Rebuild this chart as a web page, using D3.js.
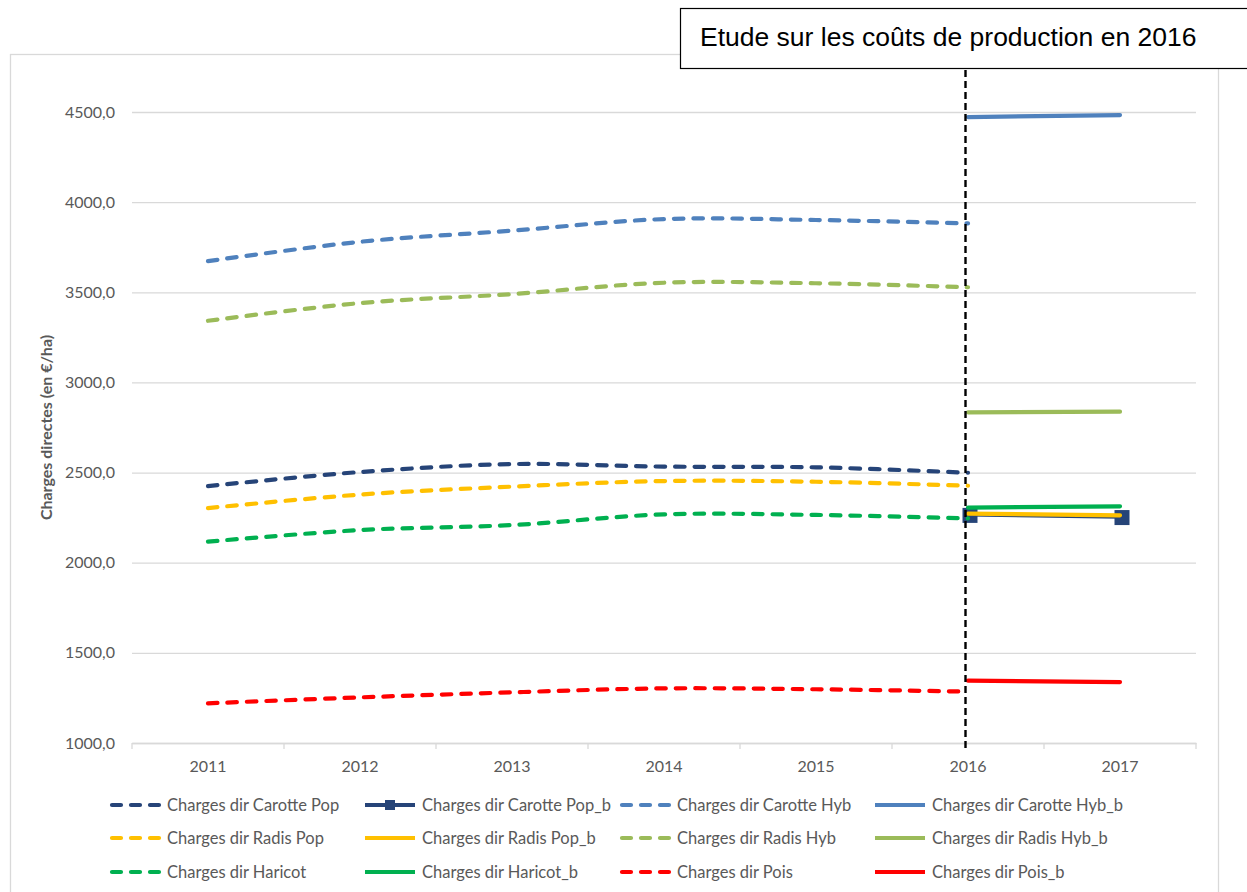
<!DOCTYPE html>
<html>
<head>
<meta charset="utf-8">
<script src="https://cdn.jsdelivr.net/npm/d3@7"></script>
<style>
  html, body { margin: 0; padding: 0; background: #fff; }
  svg { display: block; }
</style>
</head>
<body>
<svg id="chart" width="1247" height="892"></svg>
<script>
// ---------- DATA ----------
const categories = ["2011", "2012", "2013", "2014", "2015", "2016", "2017"];
const yTicks = [1000, 1500, 2000, 2500, 3000, 3500, 4000, 4500];

const carottePop  = [2425, 2503, 2547, 2533, 2529, 2499, null];
const carottePopB = [null, null, null, null, null, 2268, 2256];
const carotteHyb  = [3673, 3780, 3842, 3906, 3901, 3882, null];
const carotteHybB = [null, null, null, null, null, 4472, 4483];
const radisPop    = [2303, 2378, 2422, 2453, 2449, 2427, null];
const radisPopB   = [null, null, null, null, null, 2272, 2263];
const radisHyb    = [3342, 3440, 3490, 3553, 3550, 3528, null];
const radisHybB   = [null, null, null, null, null, 2834, 2838];
const haricot     = [2117, 2181, 2209, 2268, 2265, 2246, null];
const haricotB    = [null, null, null, null, null, 2306, 2313];
const pois        = [1220, 1253, 1281, 1303, 1298, 1285, null];
const poisB       = [null, null, null, null, null, 1346, 1338];

const seriesNames = [
  "Charges dir Carotte Pop", "Charges dir Carotte Pop_b",
  "Charges dir Carotte Hyb", "Charges dir Carotte Hyb_b",
  "Charges dir Radis Pop", "Charges dir Radis Pop_b",
  "Charges dir Radis Hyb", "Charges dir Radis Hyb_b",
  "Charges dir Haricot", "Charges dir Haricot_b",
  "Charges dir Pois", "Charges dir Pois_b"
];
const seriesValues = [carottePop, carottePopB, carotteHyb, carotteHybB,
  radisPop, radisPopB, radisHyb, radisHybB, haricot, haricotB, pois, poisB];
const seriesColors = ["#264478", "#264478", "#4F81BD", "#4F81BD",
  "#FFC000", "#FFC000", "#9BBB59", "#9BBB59", "#00B050", "#00B050", "#FF0000", "#FF0000"];
const seriesDashed = [true, false, true, false, true, false, true, false, true, false, true, false];
const seriesMarker = [false, true, false, false, false, false, false, false, false, false, false, false];

const titleText = "Etude sur les coûts de production en 2016";
const yAxisTitle = "Charges directes (en €/ha)";
const markerYear = "2016";

// ---------- LAYOUT ----------
const svg = d3.select("#chart");
const plot = { left: 132, right: 1196, top: 112, bottom: 743 };
const fontUI = "Lato, 'Open Sans', sans-serif";
const textGray = "#595959";
const gridGray = "#d9d9d9";

const x = d3.scaleBand().domain(categories).range([plot.left, plot.right]).paddingInner(0).paddingOuter(0);
const xc = c => x(c) + x.bandwidth() / 2;
const y = d3.scaleLinear().domain([1000, 4500]).range([plot.bottom, plot.top]);

// chart area border
svg.append("rect")
  .attr("x", 10.5).attr("y", 54.5).attr("width", 1208).attr("height", 900)
  .attr("fill", "#fff").attr("stroke", gridGray).attr("stroke-width", 1.3);

// gridlines
const yAxis = d3.axisLeft(y).tickValues(yTicks)
  .tickSize(-(plot.right - plot.left))
  .tickFormat(d => d3.format(".1f")(d).replace(".", ","));
const gy = svg.append("g").attr("transform", `translate(${plot.left},0)`).call(yAxis);
gy.select(".domain").remove();
gy.selectAll(".tick line").attr("stroke", gridGray).attr("stroke-width", 1.3);
gy.selectAll(".tick text")
  .attr("x", -17).attr("fill", textGray)
  .style("font-family", fontUI).style("font-size", "16px");

// x axis
const xAxis = d3.axisBottom(x).tickSize(0).tickSizeOuter(0);
const gx = svg.append("g").attr("transform", `translate(0,${plot.bottom})`).call(xAxis);
gx.select(".domain").attr("stroke", gridGray).attr("stroke-width", 1.3);
gx.selectAll(".tick text").attr("y", 18).attr("fill", textGray)
  .style("font-family", fontUI).style("font-size", "16px");
// category boundary tick marks
const boundaries = categories.map(c => x(c)).concat([plot.right]);
svg.append("g").selectAll("line").data(boundaries).join("line")
  .attr("x1", d => d).attr("x2", d => d)
  .attr("y1", plot.bottom).attr("y2", plot.bottom + 6)
  .attr("stroke", gridGray).attr("stroke-width", 1.3);

// y axis title
svg.append("text")
  .attr("transform", `translate(52,${(plot.top + plot.bottom) / 2}) rotate(-90)`)
  .attr("text-anchor", "middle")
  .attr("fill", textGray)
  .style("font-family", fontUI).style("font-size", "16px").style("font-weight", "bold")
  .text(yAxisTitle);

// series
const line = d3.line()
  .defined(d => d.v != null)
  .x(d => xc(d.c))
  .y(d => y(d.v))
  .curve(d3.curveCardinal.tension(0));

const gSeries = svg.append("g");
seriesValues.forEach((vals, i) => {
  const pts = categories.map((c, j) => ({ c, v: vals[j] }));
  gSeries.append("path")
    .datum(pts)
    .attr("d", line)
    .attr("fill", "none")
    .attr("stroke", seriesColors[i])
    .attr("stroke-width", 4.2)
    .attr("stroke-linecap", "round")
    .attr("stroke-linejoin", "round")
    .attr("stroke-dasharray", seriesDashed[i] ? "9.5 10" : null);
  if (seriesMarker[i]) {
    gSeries.append("g").selectAll("rect")
      .data(pts.filter(d => d.v != null)).join("rect")
      .attr("x", d => xc(d.c) - 7.5 + 2).attr("y", d => y(d.v) - 6.5)
      .attr("width", 15).attr("height", 15)
      .attr("fill", seriesColors[i]);
  }
});

// vertical dashed marker line at 2016
svg.append("line")
  .attr("x1", xc(markerYear) - 2.5).attr("x2", xc(markerYear) - 2.5)
  .attr("y1", 70).attr("y2", plot.bottom + 5)
  .attr("stroke", "#000").attr("stroke-width", 2.4)
  .attr("stroke-dasharray", "7 4");

// title box
svg.append("rect")
  .attr("x", 680.5).attr("y", 8.5).attr("width", 600).attr("height", 60)
  .attr("fill", "#fff").attr("stroke", "#000").attr("stroke-width", 1.2);
svg.append("text")
  .attr("x", 700).attr("y", 46)
  .attr("fill", "#000")
  .style("font-family", "'Liberation Sans', Arial, sans-serif").style("font-size", "26.5px")
  .text(titleText);

// legend
const legend = svg.append("g");
const colX = [110, 365, 620, 875];
const rowY = [805, 838, 872];
seriesNames.forEach((name, i) => {
  const col = i % 4, row = Math.floor(i / 4);
  const g = legend.append("g").attr("transform", `translate(${colX[col]},${rowY[row]})`);
  g.append("line")
    .attr("x1", seriesDashed[i] ? 2 : 0).attr("x2", 50)
    .attr("y1", 0).attr("y2", 0)
    .attr("stroke", seriesColors[i]).attr("stroke-width", 4.2)
    .attr("stroke-linecap", seriesDashed[i] ? "round" : "butt")
    .attr("stroke-dasharray", seriesDashed[i] ? "9 10" : null);
  if (seriesMarker[i]) {
    g.append("rect").attr("x", 20).attr("y", -5).attr("width", 10).attr("height", 10)
      .attr("fill", seriesColors[i]);
  }
  g.append("text")
    .attr("x", 57).attr("y", 0).attr("dy", "0.35em")
    .attr("fill", textGray)
    .style("font-family", fontUI).style("font-size", "16.5px")
    .text(name);
});
</script>
</body>
</html>
